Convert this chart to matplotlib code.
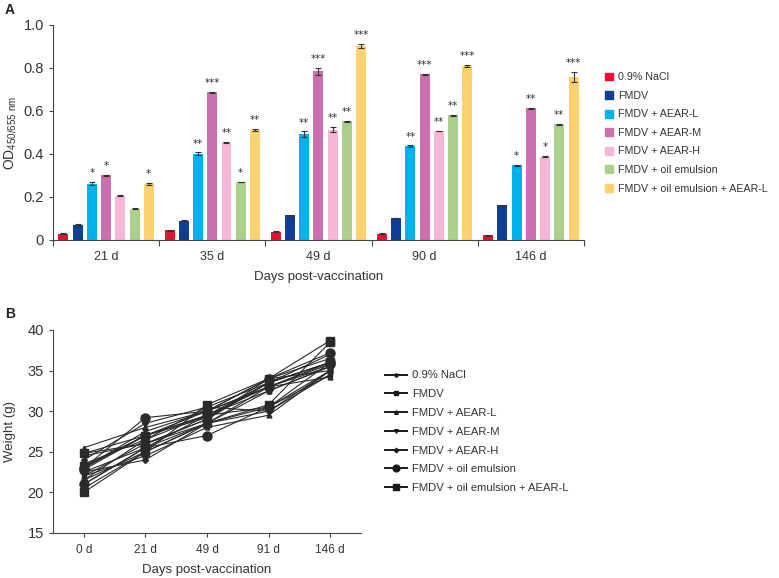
import numpy as np
import matplotlib
matplotlib.use("Agg")
import matplotlib.pyplot as plt
from matplotlib.patches import Patch
from matplotlib.lines import Line2D

plt.rcParams['font.family'] = ['Liberation Sans', 'DejaVu Sans']

# ---- panel A data ----
days_a = ["21 d", "35 d", "49 d", "90 d", "146 d"]
groups = ["0.9% NaCl", "FMDV", "FMDV + AEAR-L", "FMDV + AEAR-M",
          "FMDV + AEAR-H", "FMDV + oil emulsion", "FMDV + oil emulsion + AEAR-L"]
colors = ["#e8112d", "#0f3f94", "#00b2ec", "#cc6fae", "#f6b6d6", "#abd08b", "#fdd16f"]

od_nacl = [0.030, 0.045, 0.038, 0.030, 0.022]
od_fmdv = [0.070, 0.090, 0.115, 0.102, 0.162]
od_aear_l = [0.262, 0.402, 0.492, 0.437, 0.347]
od_aear_m = [0.300, 0.686, 0.785, 0.770, 0.612]
od_aear_h = [0.206, 0.452, 0.512, 0.507, 0.388]
od_oil = [0.146, 0.270, 0.552, 0.580, 0.538]
od_oil_l = [0.262, 0.512, 0.902, 0.810, 0.758]

err_nacl = [0.003, 0.003, 0.002, 0.002, 0.002]
err_fmdv = [0.003, 0.003, 0.003, 0.002, 0.003]
err_aear_l = [0.007, 0.005, 0.013, 0.003, 0.003]
err_aear_m = [0.002, 0.002, 0.016, 0.003, 0.002]
err_aear_h = [0.003, 0.003, 0.012, 0.002, 0.004]
err_oil = [0.002, 0.002, 0.003, 0.003, 0.003]
err_oil_l = [0.004, 0.003, 0.008, 0.005, 0.022]

stars_nacl = ["", "", "", "", ""]
stars_fmdv = ["", "", "", "", ""]
stars_aear_l = ["*", "**", "**", "**", "*"]
stars_aear_m = ["*", "***", "***", "***", "**"]
stars_aear_h = ["", "**", "**", "**", "*"]
stars_oil = ["", "*", "**", "**", "**"]
stars_oil_l = ["*", "**", "***", "***", "***"]

od = [od_nacl, od_fmdv, od_aear_l, od_aear_m, od_aear_h, od_oil, od_oil_l]
err = [err_nacl, err_fmdv, err_aear_l, err_aear_m, err_aear_h, err_oil, err_oil_l]
stars = [stars_nacl, stars_fmdv, stars_aear_l, stars_aear_m, stars_aear_h, stars_oil, stars_oil_l]

# ---- panel B data (individual mice, 3 per group) ----
days_b = ["0 d", "21 d", "49 d", "91 d", "146 d"]
w_nacl = [[22.0, 26.0, 29.0, 33.5, 36.0], [21.5, 25.0, 28.5, 33.0, 35.5], [23.0, 27.0, 30.0, 34.0, 36.5]]
w_fmdv = [[24.8, 27.0, 29.5, 30.5, 35.0], [22.5, 25.5, 28.5, 30.0, 34.5], [23.5, 26.5, 30.5, 33.5, 36.0]]
w_aear_l = [[25.5, 28.0, 30.0, 33.0, 34.2], [22.0, 24.5, 28.0, 29.5, 35.0], [21.0, 25.5, 29.5, 32.5, 35.5]]
w_aear_m = [[24.5, 26.0, 29.0, 34.0, 35.0], [20.5, 25.0, 28.5, 30.5, 34.5], [23.0, 27.5, 30.0, 33.0, 36.0]]
w_aear_h = [[22.5, 24.0, 28.5, 32.5, 35.5], [21.5, 26.5, 29.5, 33.5, 37.0], [24.0, 28.5, 30.5, 30.0, 35.0]]
w_oil = [[23.0, 29.2, 30.0, 34.0, 37.2], [21.0, 25.5, 27.0, 30.5, 36.0], [22.8, 27.0, 29.5, 33.0, 35.8]]
w_oil_l = [[20.0, 25.0, 30.8, 34.0, 38.7], [24.8, 26.0, 28.5, 30.8, 38.5], [23.2, 27.0, 29.2, 33.5, 36.0]]
weights = [w_nacl, w_fmdv, w_aear_l, w_aear_m, w_aear_h, w_oil, w_oil_l]
markers = ["o", "s", "^", "v", "D", "o", "s"]
msizes = [3, 3, 3.5, 3.5, 3, 6.5, 6]

fig = plt.figure(figsize=(7.79, 5.78), dpi=100)

# ---------------- panel A ----------------
axA = fig.add_axes([0.068, 0.5848, 0.6816, 0.372])
x = np.arange(len(days_a))
step = 0.134
width = 0.094
for i in range(len(groups)):
    pos = x + (i - 3) * step
    axA.bar(pos, od[i], width, color=colors[i], label=groups[i],
            yerr=err[i], error_kw=dict(ecolor="#333333", elinewidth=0.8, capsize=2.2, capthick=0.8))
    for j in range(len(days_a)):
        if stars[i][j]:
            axA.text(pos[j], od[i][j] + err[i][j] + 0.018, stars[i][j],
                     ha="center", va="bottom", fontsize=7.5, color="#333333",
                     family="DejaVu Sans")

axA.set_xlim(-0.5, len(days_a) - 0.5)
axA.set_ylim(0, 1.0)
axA.set_yticks([0, 0.2, 0.4, 0.6, 0.8, 1.0], ["0", "0.2", "0.4", "0.6", "0.8", "1.0"])
axA.set_xticks(np.arange(-0.5, len(days_a)), [""] * (len(days_a) + 1))
axA.set_xticks(x, days_a, minor=True)
axA.tick_params(axis="x", which="major", length=4, width=0.8, color="#444444")
axA.tick_params(axis="x", which="minor", length=0, pad=8, labelsize=9, labelcolor="#333333")
axA.tick_params(axis="y", length=3, width=0.8, labelsize=10.5, labelcolor="#333333", color="#444444")
for s in ["top", "right"]:
    axA.spines[s].set_visible(False)
for s in ["left", "bottom"]:
    axA.spines[s].set_color("#444444")
    axA.spines[s].set_linewidth(0.8)
axA.set_ylabel(r"OD$_{\mathregular{450/655\ nm}}$", fontsize=10, color="#333333")
axA.yaxis.set_label_coords(0.025, 0.5848 + 0.186, transform=fig.transFigure)
axA.set_xlabel("Days post-vaccination", fontsize=9.5, color="#333333", labelpad=6)

handlesA = [Patch(color=c) for c in colors]
fig.legend(handlesA, groups, loc="upper left", bbox_to_anchor=(0.776, 0.875),
           frameon=False, borderaxespad=0, borderpad=0, handlelength=0.75, handleheight=0.75,
           handletextpad=0.55, labelspacing=0.8, fontsize=7.7, labelcolor="#333333")

fig.text(0.006, 0.995, "A", fontsize=10, fontweight="bold", va="top", color="#222222")

# ---------------- panel B ----------------
axB = fig.add_axes([0.068, 0.0779, 0.3954, 0.3512])
xb = np.arange(len(days_b))
for i in range(len(groups)):
    for mouse in weights[i]:
        axB.plot(xb, mouse, color="#2a2a2a", lw=0.8, marker=markers[i], markersize=msizes[i])

axB.set_xlim(-0.5, len(days_b) - 0.5)
axB.set_ylim(15, 40)
axB.set_yticks([15, 20, 25, 30, 35, 40])
axB.set_xticks(xb, days_b)
axB.tick_params(axis="x", length=3, width=0.8, pad=5, labelsize=8.5, labelcolor="#333333", color="#444444")
axB.tick_params(axis="y", length=3, width=0.8, labelsize=10.5, labelcolor="#333333", color="#444444")
for s in ["top", "right"]:
    axB.spines[s].set_visible(False)
for s in ["left", "bottom"]:
    axB.spines[s].set_color("#444444")
    axB.spines[s].set_linewidth(0.8)
axB.set_ylabel("Weight (g)", fontsize=9.5, color="#333333")
axB.yaxis.set_label_coords(0.021, 0.0779 + 0.1756, transform=fig.transFigure)
axB.set_xlabel("Days post-vaccination", fontsize=9.5, color="#333333", labelpad=6)

handlesB = [Line2D([], [], color="#1a1a1a", lw=1.4, marker=m, markersize=ms * 0.75)
            for m, ms in zip(markers, msizes)]
fig.legend(handlesB, groups, loc="upper left", bbox_to_anchor=(0.494, 0.359),
           frameon=False, borderaxespad=0, borderpad=0, handlelength=2.0,
           handletextpad=0.45, labelspacing=0.78, fontsize=8.1, labelcolor="#333333")

fig.text(0.006, 0.468, "B", fontsize=10, fontweight="bold", va="top", color="#222222")

fig.savefig("out.png", dpi=100)
